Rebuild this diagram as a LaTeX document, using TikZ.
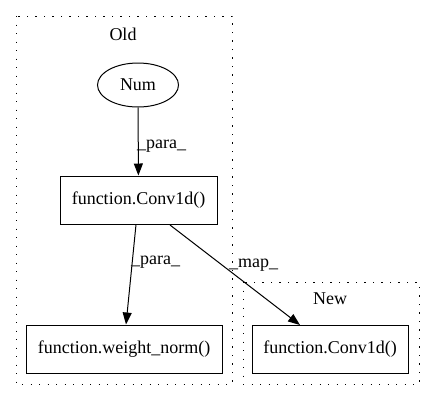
\documentclass[tikz,border=0pt]{standalone}
\usepackage{fontspec}
\setmainfont{Liberation Serif}
\usetikzlibrary{arrows.meta,shapes.geometric}
\begin{document}
\begin{tikzpicture}[x=1pt,y=-1pt,
  every node/.style={font=\fontsize{18pt}{21pt}\selectfont, inner sep=0pt},
  cluster/.style={draw, line width=1pt, dash pattern=on 1.3pt off 7.2pt},
  fbox/.style={draw, line width=1pt, rectangle, minimum height=48pt},
  edge/.style={draw, line width=1pt, -{Triangle[length=12pt,width=9pt]}},
  elab/.style={anchor=west}]
\useasboundingbox (0,0) rectangle (435,400);
\draw[cluster] (16,16) rectangle (232,384);
\draw[cluster] (243,282) rectangle (419,384);
\node (oldlab) at (123,34) {Old};
\node (newlab) at (330,299) {New};
\node[draw, ellipse, line width=1pt, minimum width=81pt, minimum height=44pt] (num) at (138,85) {Num};
\node[fbox, minimum width=157pt] (conv) at (138.5,200) {function.Conv1d()};
\node[fbox, minimum width=196pt] (wn) at (124,349) {function.weight\_norm()};
\node[fbox, minimum width=156pt] (conv2) at (330,349) {function.Conv1d()};
\draw[edge] (num) -- (conv);
\draw[edge] (conv.south -| 136,0) -- (wn.north -| 126,0);
\draw[edge] (170,225) -- (300,325);
\node[elab] (l1) at (137,146) {\_para\_};
\node[elab] (l2) at (131,262) {\_para\_};
\node[elab] (l3) at (229,265) {\_map\_};
\end{tikzpicture}
\end{document}
